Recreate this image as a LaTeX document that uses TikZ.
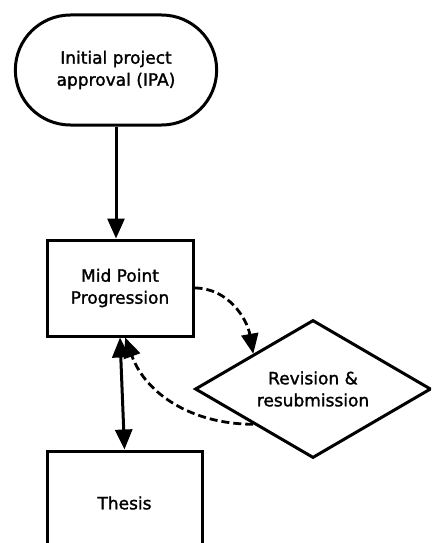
\documentclass[tikz,border=0pt]{standalone}
\usepackage{fontspec}
\setmainfont{DejaVu Sans}[BoldFont=DejaVu Sans, BoldFeatures={FakeBold=1.5}]
\usetikzlibrary{arrows.meta, shapes, positioning}
\tikzset{basic/.style={draw, line width=3pt, align=center, font=\fontsize{17}{22}\selectfont\bfseries}}
\tikzset{start/.style={basic, rounded rectangle, minimum width=208pt, minimum height=110pt}}
\tikzset{stage/.style={basic, rectangle, minimum width=146pt, minimum height=96pt}}
\tikzset{decision/.style={basic, diamond, aspect=1.7, inner sep=0pt, minimum width=236pt, minimum height=138pt}}
\tikzset{>={Triangle[length=20pt, width=17pt]}}
\tikzset{link/.style={->, line width=3pt}}
\tikzset{revise/.style={->, line width=2.8pt, dash pattern=on 8pt off 4pt}}

\begin{document}
\begin{tikzpicture}[x=1pt, y=-1pt]

    \useasboundingbox (0,0) rectangle (431,543);
    \clip (0,0) rectangle (431,543);

    \node[start] (ipa) at (116,70) {Initial project\\approval (IPA)};
    \node[stage, below=112pt of ipa, xshift=4pt] (mid) {Mid Point\\Progression};
    \node[decision] (revision) at (313,389) {Revision \&\\resubmission};
    \node[stage, minimum width=155pt, minimum height=104pt, below=112pt of mid, xshift=4.5pt] (thesis) {Thesis};

    \draw[link] (ipa.south) -- (ipa.south |- mid.north);
    \draw[link, <->] (mid.south) -- (thesis.north);
    \draw[revise] (mid.east) to[out=0, in=100] (revision.north west);
    \draw[revise] (revision.south west) to[out=180, in=-70] (mid.-84);

\end{tikzpicture}
\end{document}
